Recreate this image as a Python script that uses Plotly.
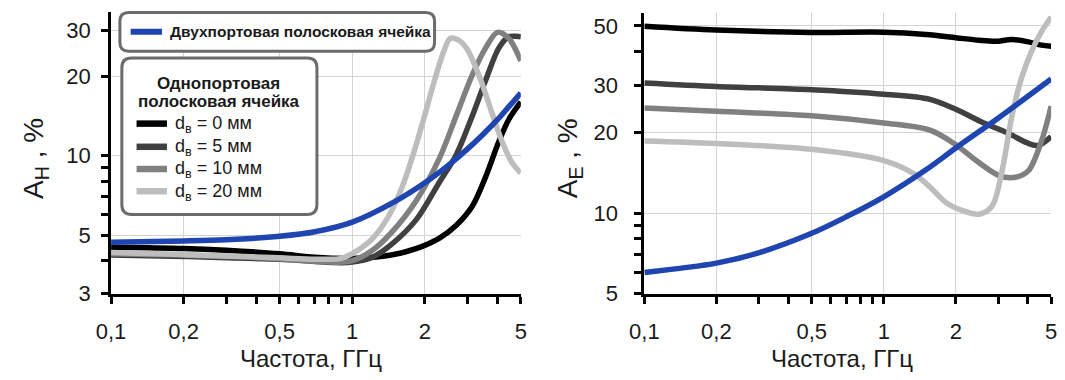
import plotly.graph_objects as go
import math

# ---------------- DATA ----------------
# Left panel: A_H, %
freq_h_two = [0.1, 0.2, 0.3, 0.5, 0.7, 1, 1.5, 2, 2.5, 3, 3.5, 4, 4.5, 5]
ah_two = [4.7, 4.75, 4.8, 4.95, 5.15, 5.6, 6.7, 7.9, 9.2, 10.6, 12.1, 13.7, 15.5, 17.3]

freq_h_d0 = [0.1, 0.2, 0.3, 0.5, 0.7, 1, 1.45, 1.85, 2.3, 2.7, 3.15, 3.57, 4.05, 4.45, 5]
ah_d0 = [4.5, 4.45, 4.38, 4.25, 4.12, 4.08, 4.2, 4.45, 4.87, 5.45, 6.45, 8.3, 11.3, 13.7, 16.0]

freq_h_d5 = [0.1, 0.2, 0.3, 0.5, 0.7, 0.9, 1, 1.2, 1.45, 1.85, 2.3, 2.7, 3.15, 3.57, 4.05, 4.45, 4.75, 5]
ah_d5 = [4.2, 4.15, 4.1, 4.05, 3.97, 3.93, 3.95, 4.1, 4.6, 5.75, 7.95, 10.1, 14.2, 19.3, 25.6, 28.3, 28.4, 28.3]

freq_h_d10 = [0.1, 0.2, 0.3, 0.5, 0.7, 0.9, 1, 1.2, 1.45, 1.85, 2.3, 2.7, 3.15, 3.57, 4.0, 4.45, 5]
ah_d10 = [4.25, 4.2, 4.15, 4.07, 3.98, 3.95, 4.0, 4.35, 5.1, 6.8, 9.8, 14.2, 20.3, 25.6, 29.4, 27.9, 22.9]

freq_h_d20 = [0.1, 0.2, 0.3, 0.5, 0.7, 0.9, 1, 1.2, 1.4, 1.6, 1.8, 2.0, 2.2, 2.4, 2.55, 2.75, 3.0, 3.4, 3.8, 4.2, 4.6, 5]
ah_d20 = [4.3, 4.22, 4.17, 4.1, 4.05, 4.08, 4.25, 4.8, 5.8, 7.5, 10.3, 14.3, 19.5, 25.0, 27.9, 27.5, 25.3, 19.5, 14.5, 11.2, 9.4, 8.6]

# Right panel: A_E, %
freq_e_two = [0.1, 0.2, 0.3, 0.5, 0.7, 1, 1.5, 2, 3, 4, 5]
ae_two = [6.0, 6.5, 7.1, 8.4, 9.7, 11.5, 14.5, 17.5, 22.6, 27.3, 31.7]

freq_e_d0 = [0.1, 0.2, 0.5, 1, 1.5, 2, 2.5, 2.93, 3.43, 4.02, 4.55, 5]
ae_d0 = [49.9, 48.3, 47.3, 47.4, 46.5, 45.2, 44.2, 43.8, 44.5, 43.6, 42.4, 42.0]

freq_e_d5 = [0.1, 0.2, 0.5, 1, 1.56, 2, 2.59, 3.33, 4.02, 4.43, 5]
ae_d5 = [30.6, 29.7, 28.9, 27.8, 26.6, 24.4, 21.8, 19.8, 18.2, 17.9, 19.3]

freq_e_d10 = [0.1, 0.2, 0.5, 1, 1.56, 2, 2.43, 3.03, 3.54, 4.02, 4.55, 5]
ae_d10 = [24.7, 24.0, 23.1, 21.7, 20.4, 18.0, 15.7, 13.8, 13.6, 14.4, 18.5, 25.1]

freq_e_d20 = [0.1, 0.2, 0.5, 1, 1.34, 1.56, 1.83, 2.14, 2.5, 2.83, 3.12, 3.43, 3.77, 4.14, 4.55, 5]
ae_d20 = [18.6, 18.2, 17.3, 15.7, 14.0, 12.5, 10.9, 10.2, 9.9, 10.6, 14.4, 23.1, 32.2, 40.2, 47.5, 54.0]

x_tickvals = [0.1, 0.2, 0.5, 1, 2, 5]
x_ticktext = ["0,1", "0,2", "0,5", "1", "2", "5"]
x_minor = [0.3, 0.4, 0.6, 0.7, 0.8, 0.9, 3, 4]
yh_tickvals = [3, 5, 10, 20, 30]
yh_minor = [4, 6, 7, 8, 9]
ye_tickvals = [5, 10, 20, 30, 50]
ye_minor = [6, 7, 8, 9, 40]

x_title = "Частота, ГГц"
yh_title = "A<sub>H</sub> , %"
ye_title = "A<sub>E</sub> , %"
legend_two = "Двухпортовая полосковая ячейка"
legend_one_title = ["Однопортовая", "полосковая ячейка"]
d_names = ["d<sub>в</sub> = 0 мм", "d<sub>в</sub> = 5 мм", "d<sub>в</sub> = 10 мм", "d<sub>в</sub> = 20 мм"]

# ---------------- STYLE ----------------
W, H = 1065, 380
BLUE = "#1f45b0"
GRAYS = ["#000000", "#404040", "#808080", "#bdbdbd"]
FONT = "Arial, Liberation Sans, sans-serif"
TXT = "#1a1a1a"
LW = 5.5


def X(px):
    return px / W


def Y(py):
    return (H - py) / H


fig = go.Figure()

series_h = [(freq_h_d0, ah_d0), (freq_h_d5, ah_d5), (freq_h_d10, ah_d10), (freq_h_d20, ah_d20)]
series_e = [(freq_e_d0, ae_d0), (freq_e_d5, ae_d5), (freq_e_d10, ae_d10), (freq_e_d20, ae_d20)]

for i, (fx, fy) in enumerate(series_h):
    fig.add_trace(go.Scatter(x=fx, y=fy, mode="lines", name=d_names[i], showlegend=False,
                             line=dict(color=GRAYS[i], width=LW, shape="spline", smoothing=0.9),
                             xaxis="x", yaxis="y"))
fig.add_trace(go.Scatter(x=freq_h_two, y=ah_two, mode="lines", name=legend_two, showlegend=False,
                         line=dict(color=BLUE, width=LW, shape="spline", smoothing=0.9),
                         xaxis="x", yaxis="y"))
for i, (fx, fy) in enumerate(series_e):
    fig.add_trace(go.Scatter(x=fx, y=fy, mode="lines", name=d_names[i], showlegend=False,
                             line=dict(color=GRAYS[i], width=LW, shape="spline", smoothing=0.9),
                             xaxis="x2", yaxis="y2"))
fig.add_trace(go.Scatter(x=freq_e_two, y=ae_two, mode="lines", name=legend_two, showlegend=False,
                         line=dict(color=BLUE, width=LW, shape="spline", smoothing=0.9),
                         xaxis="x2", yaxis="y2"))


def axis_common():
    return dict(type="log", showline=True, linewidth=3, linecolor="black",
                ticks="outside", ticklen=7, tickwidth=3, tickcolor="black",
                showgrid=True, gridcolor="#d4d4d4", gridwidth=1, zeroline=False,
                tickfont=dict(family=FONT, size=22, color=TXT), tickmode="array")


def minor(vals):
    return dict(tickvals=vals, ticks="outside", ticklen=7, tickwidth=3, tickcolor="black", showgrid=False)


xa = axis_common()
xa.update(domain=[X(98), X(516)], range=[-1, math.log10(5)], tickvals=x_tickvals, ticktext=x_ticktext,
          minor=minor(x_minor), ticklabelstandoff=9, anchor="y")
xa2 = dict(xa)
xa2.update(domain=[X(642), X(1057)], anchor="y2")

ya = axis_common()
ya.update(domain=[Y(304), Y(12)], range=[math.log10(3), 1.547], tickvals=yh_tickvals,
          ticktext=[str(v) for v in yh_tickvals], minor=minor(yh_minor), ticklabelstandoff=6, anchor="x")
ya2 = axis_common()
ya2.update(domain=[Y(304), Y(13)], range=[math.log10(5), 1.749], tickvals=ye_tickvals,
           ticktext=[str(v) for v in ye_tickvals], minor=minor(ye_minor), ticklabelstandoff=12, anchor="x2")


def rrect(x0, y0, x1, y1, r):
    def P(x, y):
        return f"{X(x):.5f},{Y(y):.5f}"
    return (f"M{P(x0 + r, y0)} L{P(x1 - r, y0)} Q{P(x1, y0)} {P(x1, y0 + r)} "
            f"L{P(x1, y1 - r)} Q{P(x1, y1)} {P(x1 - r, y1)} L{P(x0 + r, y1)} "
            f"Q{P(x0, y1)} {P(x0, y1 - r)} L{P(x0, y0 + r)} Q{P(x0, y0)} {P(x0 + r, y0)} Z")


BORDER = "#6b6b6b"
shapes = [
    dict(type="path", xref="paper", yref="paper", path=rrect(107, 13, 428, 53, 9),
         fillcolor="white", line=dict(color=BORDER, width=3), layer="above"),
    dict(type="path", xref="paper", yref="paper", path=rrect(109, 60, 308, 222, 10),
         fillcolor="white", line=dict(color=BORDER, width=3), layer="above"),
    dict(type="line", xref="paper", yref="paper", x0=X(118), x1=X(150), y0=Y(33), y1=Y(33),
         line=dict(color=BLUE, width=6), layer="above"),
]
item_y = [128, 152, 175, 198]
for i, yy in enumerate(item_y):
    shapes.append(dict(type="line", xref="paper", yref="paper", x0=X(124), x1=X(155), y0=Y(yy), y1=Y(yy),
                       line=dict(color=GRAYS[i], width=6.5), layer="above"))

annotations = [
    dict(text=legend_two, x=X(156), y=Y(33), xref="paper", yref="paper", xanchor="left", yanchor="middle",
         showarrow=False, font=dict(family=FONT, size=15.5, color=TXT, weight="bold")),
    dict(text=legend_one_title[0], x=X(208), y=Y(86), xref="paper", yref="paper", xanchor="center",
         yanchor="middle", showarrow=False, font=dict(family=FONT, size=17, color=TXT, weight="bold")),
    dict(text=legend_one_title[1], x=X(208), y=Y(105), xref="paper", yref="paper", xanchor="center",
         yanchor="middle", showarrow=False, font=dict(family=FONT, size=17, color=TXT, weight="bold")),
    dict(text=x_title, x=X(302), y=Y(371), xref="paper", yref="paper", xanchor="center", yanchor="middle",
         showarrow=False, font=dict(family=FONT, size=24, color=TXT)),
    dict(text=x_title, x=X(844), y=Y(371), xref="paper", yref="paper", xanchor="center", yanchor="middle",
         showarrow=False, font=dict(family=FONT, size=24, color=TXT)),
    dict(text=yh_title, x=X(21), y=Y(164), xref="paper", yref="paper", xanchor="center", yanchor="middle",
         textangle=-90, showarrow=False, font=dict(family=FONT, size=28, color=TXT)),
    dict(text=ye_title, x=X(566), y=Y(164), xref="paper", yref="paper", xanchor="center", yanchor="middle",
         textangle=-90, showarrow=False, font=dict(family=FONT, size=28, color=TXT)),
]
for i, yy in enumerate(item_y):
    annotations.append(dict(text=d_names[i], x=X(161), y=Y(yy + 1), xref="paper", yref="paper",
                            xanchor="left", yanchor="middle", showarrow=False,
                            font=dict(family=FONT, size=18, color=TXT)))

fig.update_layout(
    width=W, height=H, margin=dict(l=0, r=0, t=0, b=0),
    paper_bgcolor="white", plot_bgcolor="white",
    font=dict(family=FONT, color=TXT),
    xaxis=xa, yaxis=ya, xaxis2=xa2, yaxis2=ya2,
    shapes=shapes, annotations=annotations,
    showlegend=False,
)

fig.write_html("out.html")
